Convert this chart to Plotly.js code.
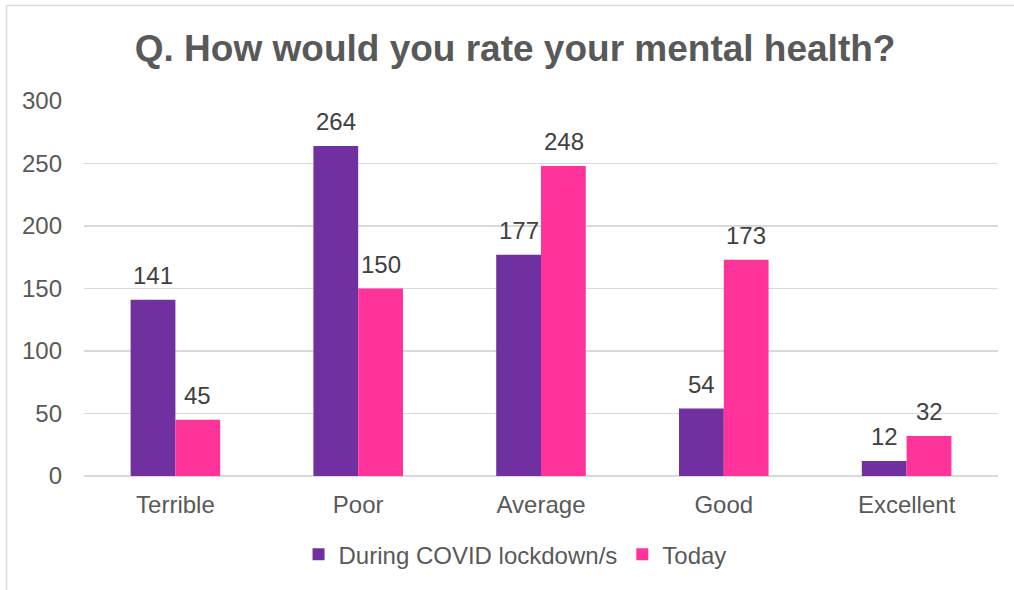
<!DOCTYPE html>
<html>
<head>
<meta charset="utf-8">
<script src="https://cdn.plot.ly/plotly-3.0.1.min.js"></script>
<style>html,body{margin:0;padding:0;background:#fff;}#chart{width:1014px;height:590px;}</style>
</head>
<body>
<div id="chart"></div>
<script>
const categories = ["Terrible", "Poor", "Average", "Good", "Excellent"];
const seriesNames = ["During COVID lockdown/s", "Today"];
const duringCovid = [141, 264, 177, 54, 12];
const today = [45, 150, 248, 173, 32];
const yTicks = [0, 50, 100, 150, 200, 250, 300];

const colors = ["#7030A0", "#FF3399"];
const font = "Liberation Sans, Arial, sans-serif";

const traces = [duringCovid, today].map((vals, i) => ({
  type: "bar",
  name: seriesNames[i],
  x: categories,
  y: vals,
  marker: {color: colors[i]},
  hoverinfo: "x+y"
}));

const annotations = [];
[duringCovid, today].forEach((vals, i) => {
  vals.forEach((v, j) => {
    annotations.push({
      x: categories[j], y: v, xref: "x", yref: "y",
      text: String(v), showarrow: false,
      xshift: i === 0 ? -22.5 : 22.5, yanchor: "bottom", yshift: 9,
      font: {family: font, size: 24, color: "#404040"}
    });
  });
});

const layout = {
  width: 1014, height: 590,
  margin: {l: 84, r: 16, t: 101, b: 114},
  paper_bgcolor: "#fff", plot_bgcolor: "#fff",
  title: {text: "<b>Q. How would you rate your mental health?</b>", xref: "container", yref: "container",
    x: 0.508, y: 0.918, xanchor: "center", yanchor: "middle",
    font: {family: font, size: 37, color: "#595959"}},
  barmode: "group", bargap: 0.51, bargroupgap: 0,
  xaxis: {type: "category", tickfont: {family: font, size: 24, color: "#595959"},
    showgrid: false, showline: false, ticks: "", ticklabelstandoff: 12, fixedrange: true},
  yaxis: {range: [0, 300], tickvals: yTicks, ticktext: yTicks.map(String),
    tickfont: {family: font, size: 24, color: "#595959"},
    gridcolor: "#D9D9D9", gridwidth: 1.3, zeroline: true, zerolinecolor: "#D9D9D9", zerolinewidth: 1.3,
    showline: false, ticks: "", ticklabelstandoff: 21, fixedrange: true},
  showlegend: true,
  legend: {orientation: "h", x: 0.4716, xanchor: "center", y: -0.21, yanchor: "middle",
    font: {family: font, size: 24, color: "#595959"}, itemwidth: 30, traceorder: "normal"},
  annotations: annotations,
  shapes: [
    {type: "line", xref: "paper", yref: "paper", x0: -0.0848, x1: 1.02, y0: 1.2547, y1: 1.2547, line: {color: "#D9D9D9", width: 1.5}},
    {type: "line", xref: "paper", yref: "paper", x0: -0.0848, x1: -0.0848, y0: 1.2547, y1: -0.31, line: {color: "#D9D9D9", width: 1.5}}
  ]
};

Plotly.newPlot("chart", traces, layout, {displayModeBar: false, staticPlot: true});
</script>
</body>
</html>
